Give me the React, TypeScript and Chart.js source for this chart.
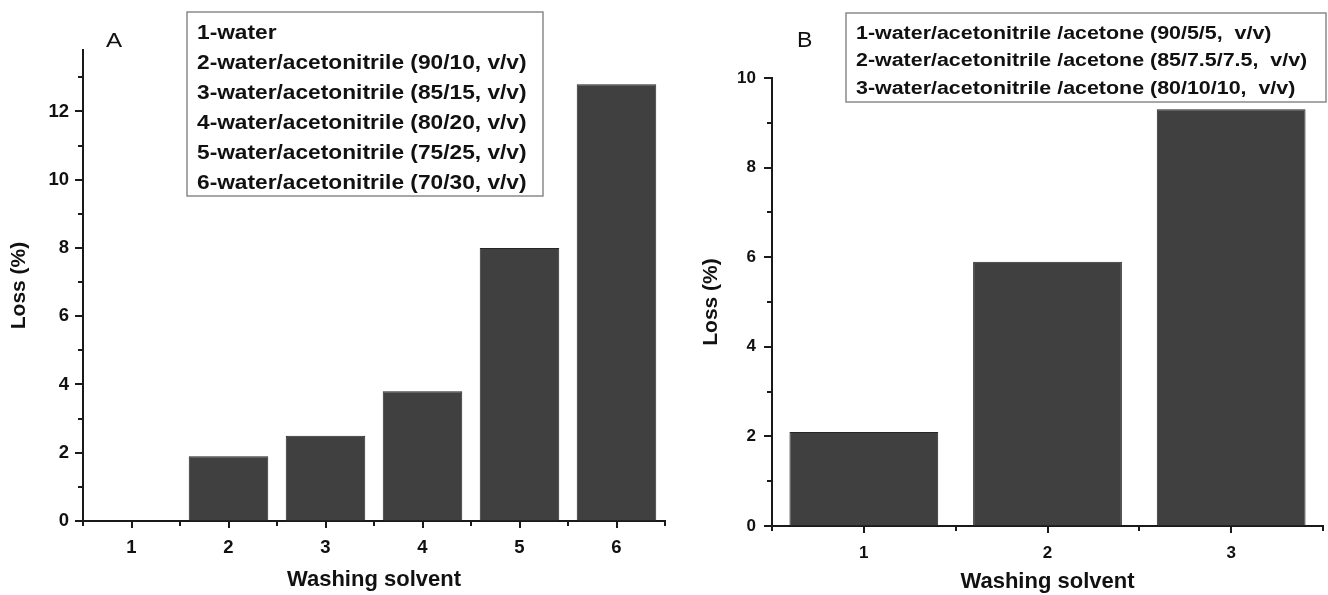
import React, { useEffect, useRef } from "react";
import { Chart, registerables } from "chart.js";

Chart.register(...registerables);

// ---------- data ----------
const categoriesA = ["1", "2", "3", "4", "5", "6"];
const lossA = [0, 1.9, 2.5, 3.8, 8.0, 12.8];
const legendA = [
  "1-water",
  "2-water/acetonitrile (90/10, v/v)",
  "3-water/acetonitrile (85/15, v/v)",
  "4-water/acetonitrile (80/20, v/v)",
  "5-water/acetonitrile (75/25, v/v)",
  "6-water/acetonitrile (70/30, v/v)",
];
const yMaxA = 13.8;

const categoriesB = ["1", "2", "3"];
const lossB = [2.1, 5.9, 9.3];
const legendB = [
  "1-water/acetonitrile /acetone (90/5/5,  v/v)",
  "2-water/acetonitrile /acetone (85/7.5/7.5,  v/v)",
  "3-water/acetonitrile /acetone (80/10/10,  v/v)",
];
const yMaxB = 10;

const xTitle = "Washing solvent";
const yTitle = "Loss (%)";

// ---------- styling ----------
const FONT = "'Liberation Sans', Arial, Helvetica, sans-serif";
const AXIS = "#1a1a1a";
const BAR = "#404040";
const BAR_BORDER = "#262626";

type LegendCfg = {
  x: number; y: number; w: number; h: number;
  textX: number; base0: number; gap: number; size: number; sx: number;
};

type PanelCfg = {
  left: number; width: number;
  letter: string; letterX: number; letterBase: number; letterSize: number; letterSx: number;
  yMax: number; yAxisWidth: number; xAxisHeight: number; padTop: number; padRight: number;
  tickSize: number; yTickPad: number; xTickPad: number;
  yTitleSize: number; yTitlePad: number; xTitleSize: number; xTitlePad: number;
  barPct: number;
  legend: LegendCfg; legendLines: string[];
  categories: string[]; values: number[];
};

const panelA: PanelCfg = {
  left: 0, width: 690,
  letter: "A", letterX: 106, letterBase: 47, letterSize: 21, letterSx: 1.15,
  yMax: yMaxA, yAxisWidth: 83, xAxisHeight: 74, padTop: 50, padRight: 25,
  tickSize: 18.5, yTickPad: 7, xTickPad: 9,
  yTitleSize: 21, yTitlePad: 7, xTitleSize: 22, xTitlePad: 2,
  barPct: 0.82,
  legend: { x: 187, y: 12, w: 356, h: 184, textX: 197, base0: 39, gap: 30, size: 19.5, sx: 1.165 },
  legendLines: legendA,
  categories: categoriesA, values: lossA,
};

const panelB: PanelCfg = {
  left: 690, width: 638,
  letter: "B", letterX: 107, letterBase: 47, letterSize: 22, letterSx: 1.05,
  yMax: yMaxB, yAxisWidth: 82, xAxisHeight: 69, padTop: 78, padRight: 5,
  tickSize: 17, yTickPad: 9, xTickPad: 10,
  yTitleSize: 21, yTitlePad: 9, xTitleSize: 22, xTitlePad: 0,
  barPct: 0.81,
  legend: { x: 156, y: 13, w: 480, h: 89, textX: 166, base0: 38.5, gap: 27.5, size: 18, sx: 1.19 },
  legendLines: legendB,
  categories: categoriesB, values: lossB,
};

const decoPlugin = {
  id: "deco",
  afterDraw(chart: any, _args: any, opts: any) {
    const cfg: PanelCfg = opts.cfg;
    const ctx: CanvasRenderingContext2D = chart.ctx;
    const ca = chart.chartArea;
    const ys = chart.scales.y;
    const xs = chart.scales.x;
    ctx.save();
    ctx.strokeStyle = AXIS;
    ctx.lineWidth = 2;
    // y ticks (major at even, minor at odd)
    for (let v = 0; v <= cfg.yMax + 1e-9; v += 1) {
      const py = Math.round(ys.getPixelForValue(v));
      const len = v % 2 === 0 ? 8 : 5;
      ctx.beginPath();
      ctx.moveTo(ca.left - len, py);
      ctx.lineTo(ca.left, py);
      ctx.stroke();
    }
    // x ticks: major at category centres, minor at boundaries
    const n = cfg.categories.length;
    const step = (ca.right - ca.left) / n;
    for (let i = 0; i < n; i++) {
      const px = Math.round(xs.getPixelForValue(i));
      ctx.beginPath();
      ctx.moveTo(px, ca.bottom);
      ctx.lineTo(px, ca.bottom + 7);
      ctx.stroke();
    }
    for (let i = 0; i <= n; i++) {
      const px = Math.round(ca.left + i * step);
      ctx.beginPath();
      ctx.moveTo(px, ca.bottom);
      ctx.lineTo(px, ca.bottom + 5);
      ctx.stroke();
    }
    // panel letter
    ctx.fillStyle = "#111";
    ctx.font = `normal ${cfg.letterSize}px ${FONT}`;
    ctx.textBaseline = "alphabetic";
    ctx.textAlign = "left";
    ctx.save();
    ctx.translate(cfg.letterX, cfg.letterBase);
    ctx.scale(cfg.letterSx, 1);
    ctx.fillText(cfg.letter, 0, 0);
    ctx.restore();
    // legend box
    const L = cfg.legend;
    ctx.fillStyle = "#ffffff";
    ctx.fillRect(L.x, L.y, L.w, L.h);
    ctx.strokeStyle = "#8a8a8a";
    ctx.lineWidth = 1.5;
    ctx.strokeRect(L.x, L.y, L.w, L.h);
    ctx.fillStyle = "#111";
    ctx.font = `bold ${L.size}px ${FONT}`;
    cfg.legendLines.forEach((line, i) => {
      ctx.save();
      ctx.translate(L.textX, L.base0 + i * L.gap);
      ctx.scale(L.sx, 1);
      ctx.fillText(line, 0, 0);
      ctx.restore();
    });
    ctx.restore();
  },
};

function Panel({ cfg }: { cfg: PanelCfg }) {
  const ref = useRef<HTMLCanvasElement | null>(null);
  useEffect(() => {
    if (!ref.current) return;
    const chart = new Chart(ref.current, {
      type: "bar",
      data: {
        labels: cfg.categories,
        datasets: [
          {
            data: cfg.values,
            backgroundColor: BAR,
            borderColor: BAR_BORDER,
            borderWidth: 1,
            barPercentage: cfg.barPct,
            categoryPercentage: 1,
          },
        ],
      },
      options: {
        responsive: false,
        animation: false,
        devicePixelRatio: 1,
        layout: { padding: { left: 0, right: cfg.padRight, top: cfg.padTop, bottom: 0 } },
        plugins: {
          legend: { display: false },
          tooltip: { enabled: false },
          title: { display: false },
          deco: { cfg },
        } as any,
        scales: {
          x: {
            type: "category",
            offset: true,
            grid: { display: true, drawOnChartArea: false, drawTicks: true, tickLength: 7, tickColor: "rgba(0,0,0,0)" },
            border: { display: true, color: AXIS, width: 2 },
            ticks: {
              color: "#111",
              font: { family: FONT, size: cfg.tickSize, weight: "bold" },
              padding: cfg.xTickPad,
              maxRotation: 0,
              autoSkip: false,
            },
            title: {
              display: true,
              text: xTitle,
              color: "#111",
              font: { family: FONT, size: cfg.xTitleSize, weight: "bold" },
              padding: { top: 0, bottom: cfg.xTitlePad },
            },
            afterFit: (s: any) => { s.height = cfg.xAxisHeight; },
          },
          y: {
            type: "linear",
            min: 0,
            max: cfg.yMax,
            grid: { display: true, drawOnChartArea: false, drawTicks: true, tickLength: 7, tickColor: "rgba(0,0,0,0)" },
            border: { display: true, color: AXIS, width: 2 },
            ticks: {
              stepSize: 1,
              includeBounds: false,
              color: "#111",
              font: { family: FONT, size: cfg.tickSize, weight: "bold" },
              padding: cfg.yTickPad,
              callback: (v: any) => (Number(v) % 2 === 0 ? String(v) : ""),
            },
            title: {
              display: true,
              text: yTitle,
              color: "#111",
              font: { family: FONT, size: cfg.yTitleSize, weight: "bold" },
              padding: { top: cfg.yTitlePad, bottom: 0 },
            },
            afterFit: (s: any) => { s.width = cfg.yAxisWidth; },
          },
        },
      } as any,
      plugins: [decoPlugin],
    });
    return () => chart.destroy();
  }, [cfg]);
  return (
    <canvas
      ref={ref}
      width={cfg.width}
      height={595}
      style={{ position: "absolute", left: cfg.left, top: 0, width: cfg.width, height: 595 }}
    />
  );
}

export default function App() {
  useEffect(() => {
    document.body.style.margin = "0";
    document.body.style.background = "#ffffff";
  }, []);
  return (
    <div style={{ position: "relative", width: 1328, height: 595, background: "#fff", overflow: "hidden" }}>
      <Panel cfg={panelA} />
      <Panel cfg={panelB} />
    </div>
  );
}
